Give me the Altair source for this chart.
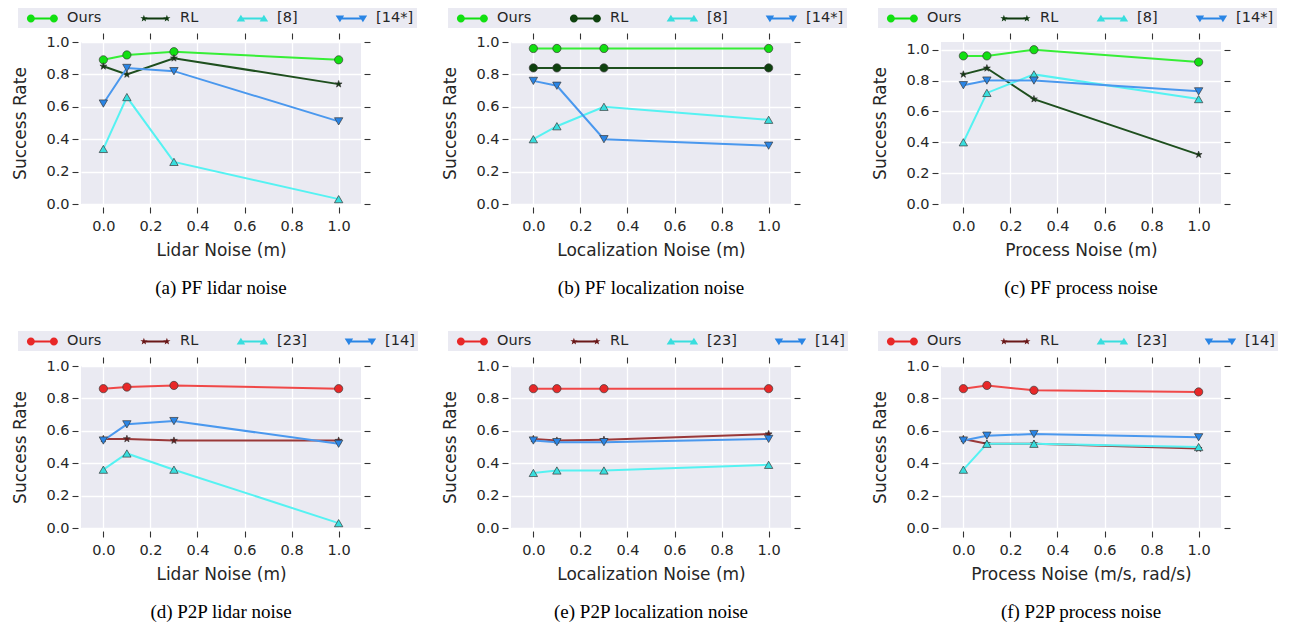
import math
import altair as alt
import pandas as pd

# ---------------- data ----------------
X = [0.0, 0.1, 0.3, 1.0]
PF_SERIES = ["Ours", "RL", "[8]", "[14*]"]
P2P_SERIES = ["Ours", "RL", "[23]", "[14]"]

# (a) PF lidar noise
a_ours = [0.89, 0.92, 0.94, 0.89]
a_rl = [0.85, 0.80, 0.90, 0.74]
a_8 = [0.34, 0.66, 0.26, 0.03]
a_14 = [0.62, 0.84, 0.82, 0.51]
# (b) PF localization noise
b_ours = [0.96, 0.96, 0.96, 0.96]
b_rl = [0.84, 0.84, 0.84, 0.84]
b_8 = [0.40, 0.48, 0.60, 0.52]
b_14 = [0.76, 0.73, 0.40, 0.36]
# (c) PF process noise
c_ours = [0.96, 0.96, 1.00, 0.92]
c_rl = [0.84, 0.88, 0.68, 0.32]
c_8 = [0.40, 0.72, 0.84, 0.68]
c_14 = [0.77, 0.80, 0.80, 0.73]
# (d) P2P lidar noise
d_ours = [0.86, 0.87, 0.88, 0.86]
d_rl = [0.55, 0.55, 0.54, 0.54]
d_23 = [0.36, 0.46, 0.36, 0.03]
d_14 = [0.54, 0.64, 0.66, 0.52]
# (e) P2P localization noise
e_ours = [0.86, 0.86, 0.86, 0.86]
e_rl = [0.55, 0.54, 0.545, 0.58]
e_23 = [0.34, 0.355, 0.355, 0.39]
e_14 = [0.54, 0.53, 0.53, 0.55]
# (f) P2P process noise
f_ours = [0.86, 0.88, 0.85, 0.84]
f_rl = [0.55, 0.52, 0.52, 0.49]
f_23 = [0.36, 0.52, 0.52, 0.50]
f_14 = [0.54, 0.57, 0.58, 0.56]

Y_TICKS = [0.0, 0.2, 0.4, 0.6, 0.8, 1.0]
X_TICKS = [0.0, 0.2, 0.4, 0.6, 0.8, 1.0]

# ---------------- style ----------------
BG = "#EAEAF2"
TXT = "#262626"
TICK = "#333333"
EDGE = "#3a3a3a"

PF_LINE = ["#36EE36", "#1E4F1E", "#55F2F2", "#4A98EE"]
PF_MARK = ["#11E011", "#0F3A0F", "#38DEDE", "#2A85E5"]
PF_MARK_B = ["#11E011", "#0E420E", "#38DEDE", "#2A85E5"]
P2P_LINE = ["#F04848", "#9A3838", "#55F2F2", "#4A98EE"]
P2P_MARK = ["#E82828", "#6A1818", "#38DEDE", "#2A85E5"]


def star_path(cx=0.0, R=1.0, ri=0.4):
    pts = []
    for k in range(10):
        ang = math.radians(-90 + 36 * k)
        r = R if k % 2 == 0 else R * ri
        pts.append((cx + r * math.cos(ang), r * math.sin(ang)))
    return "M" + "L".join(f"{x:.3f},{y:.3f}" for x, y in pts) + "Z"


def circ(cx, r=0.8):
    return (f"M{cx - r:.3f},0A{r},{r} 0 1 1 {cx + r:.3f},0"
            f"A{r},{r} 0 1 1 {cx - r:.3f},0Z")


def tri_up(cx, hw=0.85, top=-0.75, bot=0.6):
    return f"M{cx:.3f},{top}L{cx + hw:.3f},{bot}L{cx - hw:.3f},{bot}Z"


def tri_down(cx, hw=0.85, top=-0.75, bot=0.6):
    return f"M{cx:.3f},{-top}L{cx - hw:.3f},{-bot}L{cx + hw:.3f},{-bot}Z"


def bar(x1, x2, h=0.2):
    return f"M{x1:.3f},{-h}L{x2:.3f},{-h}L{x2:.3f},{h}L{x1:.3f},{h}Z"


SHIFT = 2.83
C1, C2 = SHIFT - 2.3, SHIFT + 2.3
GLYPHS = {
    "circle": circ(C1) + circ(C2) + bar(C1 + 0.77, C2 - 0.77),
    "star": star_path(C1, 0.75) + star_path(C2, 0.75) + bar(C1 + 0.25, C2 - 0.25),
    "up": tri_up(C1) + tri_up(C2) + bar(C1 + 0.35, C2 - 0.35),
    "down": tri_down(C1) + tri_down(C2) + bar(C1 + 0.35, C2 - 0.35),
}
SHAPES = {"circle": "circle", "star": star_path(), "up": "triangle-up", "down": "triangle-down"}
SIZES = {"circle": 68, "star": 52, "up": 70, "down": 70}

W, H = 280, 162


def axis_common(**kw):
    base = dict(domain=False, ticks=True, tickSize=6, tickColor=TICK, tickWidth=1.1,
                offset=3, labelFont="DejaVu Sans", labelFontSize=14.5, labelColor=TXT,
                titleFont="DejaVu Sans", titleFontSize=17, titleFontWeight="normal",
                titleColor=TXT, gridColor="white", gridWidth=1.3, gridOpacity=1)
    base.update(kw)
    return alt.Axis(**base)


def panel(vals, series, kinds, line_cols, mark_cols, xtitle, caption, ymax, legend_y):
    xs = alt.Scale(domain=[-0.095, 1.095], nice=False, zero=False)
    ys = alt.Scale(domain=[0, ymax], nice=False, zero=False)
    layers = []
    frames = []
    for i, (name, v, kind, lc, mc) in enumerate(zip(series, vals, kinds, line_cols, mark_cols)):
        df = pd.DataFrame({"x": X, "y": v, "series": name})
        frames.append(df)
        if i == 0:
            xax = axis_common(orient="bottom", values=X_TICKS, format=".1f", grid=True,
                              title=xtitle, labelPadding=6, titlePadding=10)
            yax = axis_common(orient="left", values=Y_TICKS, format=".1f", grid=True,
                              title="Success Rate", labelPadding=3, titlePadding=16)
        else:
            xax = None
            yax = None
        line = alt.Chart(df).mark_line(color=lc, strokeWidth=2, opacity=1).encode(
            x=alt.X("x:Q", scale=xs, axis=xax),
            y=alt.Y("y:Q", scale=ys, axis=yax),
        )
        pts = alt.Chart(df).mark_point(
            shape=SHAPES[kind], size=SIZES[kind], filled=True, fill=mc,
            stroke=EDGE, strokeWidth=0.7, opacity=1,
        ).encode(
            x=alt.X("x:Q", scale=xs, axis=None),
            y=alt.Y("y:Q", scale=ys, axis=None),
        )
        layers += [line, pts]

    all_df = pd.concat(frames, ignore_index=True)
    leg = alt.Legend(
        orient="none", legendX=-63, legendY=legend_y, direction="horizontal", columns=4,
        title=None, symbolSize=100, fillColor=BG, padding=3,
        labelFont="DejaVu Sans", labelFontSize=14.5, labelColor=TXT,
        labelOffset=31.6, columnPadding=32, gridAlign="each",
        symbolStrokeWidth=0, symbolOpacity=1, labelLimit=300, rowPadding=0,
    )
    legend_layer = alt.Chart(all_df).transform_filter("datum.y > 5").mark_point(
        filled=True, opacity=1, strokeWidth=0
    ).encode(
        x=alt.X("x:Q", scale=xs, axis=axis_common(orient="top", values=X_TICKS, labels=False,
                                                   grid=False, title=None)),
        y=alt.Y("y:Q", scale=ys, axis=axis_common(orient="right", values=Y_TICKS, labels=False,
                                                   grid=False, title=None)),
        color=alt.Color("series:N", scale=alt.Scale(domain=series, range=mark_cols), legend=leg),
        shape=alt.Shape("series:N", scale=alt.Scale(domain=series, range=[GLYPHS[k] for k in kinds]),
                        legend=leg),
    )
    return alt.layer(*layers, legend_layer).resolve_axis(
        x="independent", y="independent"
    ).properties(
        width=W, height=H,
        title=alt.TitleParams(caption, orient="bottom", font="Liberation Serif", fontSize=19,
                              fontWeight="normal", color="black", offset=20, anchor="middle",
                              frame="group"),
    )


pf_kinds = ["circle", "star", "up", "down"]
pf_kinds_b = ["circle", "circle", "up", "down"]

pa = panel([a_ours, a_rl, a_8, a_14], PF_SERIES, pf_kinds, PF_LINE, PF_MARK,
           "Lidar Noise (m)", "(a) PF lidar noise", 1.0, -34)
pb = panel([b_ours, b_rl, b_8, b_14], PF_SERIES, pf_kinds_b, PF_LINE, PF_MARK_B,
           "Localization Noise (m)", "(b) PF localization noise", 1.0, -34)
pc = panel([c_ours, c_rl, c_8, c_14], PF_SERIES, pf_kinds, PF_LINE, PF_MARK,
           "Process Noise (m)", "(c) PF process noise", 1.05, -34)
pd_ = panel([d_ours, d_rl, d_23, d_14], P2P_SERIES, pf_kinds, P2P_LINE, P2P_MARK,
            "Lidar Noise (m)", "(d) P2P lidar noise", 1.0, -35)
pe = panel([e_ours, e_rl, e_23, e_14], P2P_SERIES, pf_kinds, P2P_LINE, P2P_MARK,
           "Localization Noise (m)", "(e) P2P localization noise", 1.0, -35)
pf = panel([f_ours, f_rl, f_23, f_14], P2P_SERIES, pf_kinds, P2P_LINE, P2P_MARK,
           "Process Noise (m/s, rad/s)", "(f) P2P process noise", 1.0, -35)

RES = dict(color="independent", shape="independent")

chart = alt.concat(
    pa, pb, pc, pd_, pe, pf, columns=3, spacing={"row": 162, "column": 150}, bounds="flush"
).resolve_scale(**RES).resolve_legend(**RES).properties(
    padding={"left": 3, "top": 0, "right": 0, "bottom": 0},
).configure(font="DejaVu Sans").configure_view(stroke=None, fill=BG)

chart.save("out.html", embed_options={"renderer": "svg", "actions": False})
